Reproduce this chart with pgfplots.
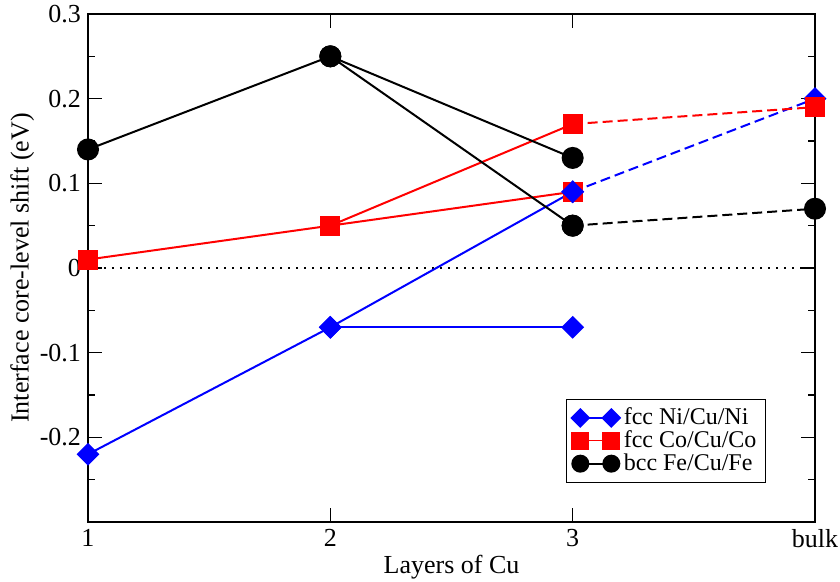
\documentclass[border=0pt]{standalone}
\usepackage{fontspec}
\setmainfont{Liberation Serif}
\usepackage{pgfplots}
\pgfplotsset{compat=1.18}
\definecolor{gblue}{RGB}{0,0,255}
\definecolor{gred}{RGB}{255,0,0}
\begin{document}
\begin{tikzpicture}
\path[use as bounding box] (-44pt,-30pt) rectangle (376pt,261pt);
\begin{axis}[
  scale only axis,
  width=363.5pt, height=254pt,
  xmin=1, xmax=4, ymin=-0.3, ymax=0.3,
  xtick={1,2,3,4}, xticklabels={1,2,3,bulk},
  ytick={-0.3,-0.2,-0.1,0,0.1,0.2,0.3},
  yticklabels={,-0.2,-0.1,0,0.1,0.2,0.3},
  minor ytick={-0.25,-0.15,-0.05,0.05,0.15,0.25},
  major tick length=7pt, minor tick length=3.5pt,
  tick style={black, line width=0.6pt},
  axis line style={line width=0.75pt},
  tick label style={font=\fontsize{13}{15}\selectfont},
  label style={font=\fontsize{13}{15}\selectfont},
  xlabel={Layers of Cu},
  ylabel={Interface core-level shift (eV)},
  xlabel shift=-3pt,
  ylabel shift=-4pt,
  legend style={at={(0.9326,0.0768)}, anchor=south east, draw=black, line width=0.5pt,
    font=\fontsize{12}{13}\selectfont, cells={anchor=west}, row sep=-2.5pt, inner sep=2.5pt},
  legend image code/.code={\draw[#1] plot coordinates {(0pt,0pt) (15.5pt,0pt)};},
  every axis plot/.append style={line width=1pt},
  clip=false,
]
\addlegendimage{gblue, solid, mark=square*, mark size=3pt, mark options={rotate=45, solid}}
\addlegendentry{fcc Ni/Cu/Ni}
\addlegendimage{gred, solid, line width=0.6pt, mark=square*, mark size=4.25pt, mark options={solid}}
\addlegendentry{fcc Co/Cu/Co}
\addlegendimage{black, solid, mark=*, mark size=4pt, mark options={solid}}
\addlegendentry{bcc Fe/Cu/Fe}
% zero line
\addplot[black, line width=1pt, dash pattern=on 1pt off 3pt, forget plot] coordinates {(1,0) (4,0)};
% blue dashed
\addplot[gblue, dash pattern=on 5pt off 2.5pt, mark=square*, mark size=3.54pt, mark options={rotate=45, solid}, forget plot] coordinates {(3,0.09) (4,0.20)};
% red dashed
\addplot[gred, dash pattern=on 5pt off 2.5pt, mark=square*, mark size=4.5pt, mark options={solid}, forget plot] coordinates {(3,0.17) (4,0.19)};
% red solid
\addplot[gred, mark=square*, mark size=4.5pt, forget plot] coordinates {(1,0.01) (2,0.05) (3,0.09)};
\addplot[gred, mark=square*, mark size=4.5pt, forget plot] coordinates {(2,0.05) (3,0.17)};
% blue solid
\addplot[gblue, mark=square*, mark size=3.54pt, mark options={rotate=45}, forget plot] coordinates {(1,-0.22) (2,-0.07) (3,0.09)};
\addplot[gblue, mark=square*, mark size=3.54pt, mark options={rotate=45}, forget plot] coordinates {(2,-0.07) (3,-0.07)};
% black
\addplot[black, dash pattern=on 5pt off 2.5pt, mark=*, mark size=5pt, mark options={solid}, forget plot] coordinates {(3,0.05) (4,0.07)};
\addplot[black, mark=*, mark size=5pt, forget plot] coordinates {(1,0.14) (2,0.25) (3,0.13)};
\addplot[black, mark=*, mark size=5pt, forget plot] coordinates {(2,0.25) (3,0.05)};
\end{axis}
\end{tikzpicture}
\end{document}
